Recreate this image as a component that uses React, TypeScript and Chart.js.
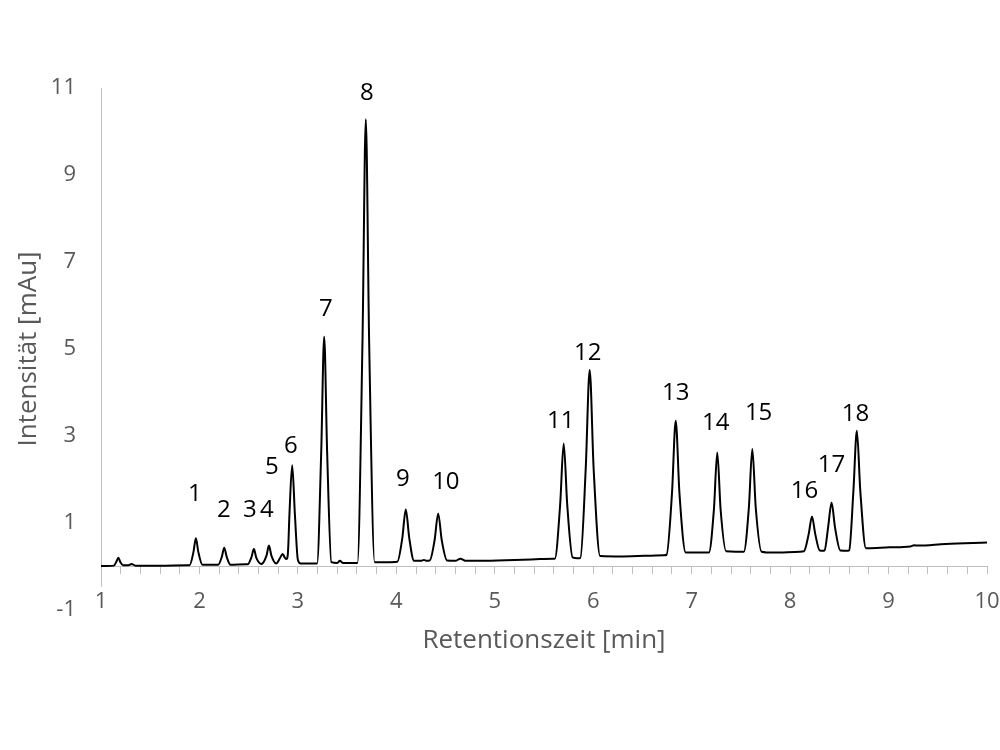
import React, { useEffect, useRef } from "react";
import { Chart, registerables } from "chart.js";

Chart.register(...registerables);

// Chromatogram trace: [retention time (min), intensity (mAu)]
const trace: [number, number][] = [
  [1.0, 0.01], [1.13, 0.02], [1.158, 0.12], [1.176, 0.2], [1.197, 0.1], [1.225, 0.03],
  [1.28, 0.03], [1.31, 0.06], [1.35, 0.02], [1.6, 0.02], [1.88, 0.03],
  // peak 1
  [1.9, 0.03], [1.939, 0.33], [1.964, 0.65], [1.989, 0.33], [2.03, 0.04],
  // peak 2
  [2.19, 0.04], [2.227, 0.22], [2.252, 0.43], [2.277, 0.22], [2.316, 0.04],
  [2.47, 0.05],
  // peak 3
  [2.49, 0.05], [2.528, 0.21], [2.553, 0.4], [2.578, 0.2], [2.63, 0.06],
  // peak 4
  [2.681, 0.25], [2.706, 0.48], [2.731, 0.25], [2.78, 0.07],
  // peak 5 (shoulder)
  [2.82, 0.2], [2.845, 0.29], [2.868, 0.2], [2.885, 0.17],
  // peak 6
  [2.9, 0.35], [2.914, 1.18], [2.942, 2.33], [2.97, 1.18], [3.0, 0.15], [3.03, 0.07],
  [3.18, 0.07],
  // peak 7
  [3.195, 0.07], [3.237, 2.64], [3.267, 5.28], [3.297, 2.64], [3.34, 0.1],
  [3.4, 0.08], [3.426, 0.13], [3.46, 0.08], [3.59, 0.08],
  // peak 8
  [3.605, 0.08], [3.656, 5.15], [3.69, 10.28], [3.724, 5.15], [3.78, 0.1],
  [3.9, 0.1],
  // peak 9
  [4.01, 0.11], [4.061, 0.66], [4.096, 1.31], [4.131, 0.66], [4.18, 0.13],
  [4.25, 0.13], [4.28, 0.15], [4.31, 0.13],
  // peak 10
  [4.34, 0.14], [4.389, 0.61], [4.425, 1.22], [4.461, 0.61], [4.515, 0.14],
  [4.6, 0.13], [4.65, 0.18], [4.71, 0.13], [4.85, 0.13], [5.2, 0.15], [5.46, 0.17], [5.59, 0.18],
  // peak 11
  [5.61, 0.18], [5.664, 1.42], [5.7, 2.83], [5.736, 1.42], [5.79, 0.21],
  [5.84, 0.19],
  // peak 12
  [5.87, 0.2], [5.924, 2.26], [5.964, 4.52], [6.004, 2.26], [6.07, 0.24],
  [6.3, 0.23], [6.72, 0.26],
  // peak 13
  [6.745, 0.27], [6.8, 1.68], [6.838, 3.35], [6.876, 1.68], [6.94, 0.32],
  [7.05, 0.32],
  // peak 14
  [7.175, 0.32], [7.226, 1.31], [7.26, 2.62], [7.294, 1.31], [7.35, 0.35],
  [7.45, 0.34],
  // peak 15
  [7.53, 0.34], [7.581, 1.35], [7.616, 2.7], [7.651, 1.35], [7.71, 0.34],
  [7.83, 0.32], [8.1, 0.34],
  // peak 16
  [8.14, 0.35], [8.189, 0.75], [8.222, 1.15], [8.255, 0.75], [8.3, 0.37],
  [8.33, 0.36],
  // peak 17
  [8.35, 0.37], [8.386, 0.9], [8.421, 1.47], [8.456, 0.9], [8.51, 0.37],
  [8.587, 0.36],
  // peak 18
  [8.6, 0.37], [8.643, 1.74], [8.678, 3.12], [8.713, 1.74], [8.77, 0.42],
  [8.79, 0.42], [9.01, 0.44], [9.22, 0.46], [9.26, 0.49], [9.3, 0.48], [9.58, 0.52], [10.0, 0.55],
];

// Peak annotations: number, time of label, height of label
const peakNumbers = ["1", "2", "3", "4", "5", "6", "7", "8", "9", "10", "11", "12", "13", "14", "15", "16", "17", "18"];
const peakLabelTimes = [1.954, 2.249, 2.513, 2.685, 2.736, 2.929, 3.284, 3.701, 4.066, 4.503, 5.67, 5.944, 6.838, 7.244, 7.68, 8.147, 8.421, 8.665];
const peakLabelHeights = [1.67, 1.3, 1.3, 1.3, 2.29, 2.77, 5.92, 10.89, 2.01, 1.94, 3.34, 4.91, 3.99, 3.3, 3.53, 1.74, 2.33, 3.51];

const xMin = 1;
const xMax = 10;
const yMin = -1;
const yMax = 11;

const xTitle = "Retentionszeit [min]";
const yTitle = "Intensität [mAu]";

const FONT = "'Open Sans', sans-serif";
const AXIS_TEXT = "#595959";
const AXIS_LINE = "#bfbfbf";

const peakLabelPlugin = {
  id: "peakLabels",
  afterDatasetsDraw(chart: any) {
    const { ctx, scales } = chart;
    ctx.save();
    ctx.font = `24px ${FONT}`;
    ctx.fillStyle = "#000000";
    ctx.textAlign = "center";
    ctx.textBaseline = "middle";
    peakNumbers.forEach((label, i) => {
      ctx.fillText(
        label,
        scales.x.getPixelForValue(peakLabelTimes[i]),
        scales.y.getPixelForValue(peakLabelHeights[i])
      );
    });
    ctx.restore();
  },
};

export default function App() {
  const canvasRef = useRef<HTMLCanvasElement | null>(null);

  useEffect(() => {
    if (!canvasRef.current) return;
    const chart = new Chart(canvasRef.current, {
      type: "line",
      data: {
        datasets: [
          {
            data: trace.map(([x, y]) => ({ x, y })),
            borderColor: "#000000",
            borderWidth: 2,
            pointRadius: 0,
            fill: false,
            cubicInterpolationMode: "monotone",
          },
        ],
      },
      options: {
        animation: false,
        responsive: true,
        maintainAspectRatio: false,
        layout: { padding: { top: 88, right: 13, left: 0, bottom: 0 } },
        plugins: {
          legend: { display: false },
          tooltip: { enabled: false },
        },
        scales: {
          x: {
            type: "linear",
            position: "bottom",
            min: xMin,
            max: xMax,
            ticks: { display: false, stepSize: 1 },
            grid: { display: false, drawTicks: false },
            border: { display: false },
            title: {
              display: true,
              text: xTitle,
              color: AXIS_TEXT,
              font: { family: FONT, size: 26 },
              padding: { top: 0, bottom: 94 },
            },
            afterFit: (scale: any) => {
              scale.height = 140;
            },
          },
          xLabels: {
            type: "linear",
            axis: "x",
            position: { y: yMin },
            min: xMin,
            max: xMax,
            ticks: {
              stepSize: 1,
              color: AXIS_TEXT,
              font: { family: FONT, size: 22 },
              padding: -21,
              maxRotation: 0,
              autoSkip: false,
              showLabelBackdrop: true,
              backdropColor: "#ffffff",
              backdropPadding: { top: 2, bottom: 0, left: 1, right: 1 },
              z: 1,
            },
            grid: { display: false, drawTicks: false },
            border: { display: false },
          },
          x2: {
            type: "linear",
            axis: "x",
            position: { y: 0 },
            min: xMin,
            max: xMax,
            ticks: { stepSize: 0.2, display: false },
            grid: {
              display: true,
              drawOnChartArea: false,
              drawTicks: true,
              tickLength: 7,
              color: AXIS_LINE,
              lineWidth: 1,
            },
            border: { display: true, color: AXIS_LINE, width: 1 },
          },
          y: {
            type: "linear",
            position: "left",
            min: yMin,
            max: yMax,
            ticks: {
              stepSize: 2,
              color: AXIS_TEXT,
              font: { family: FONT, size: 22 },
              padding: 25,
            },
            grid: { display: false, drawTicks: false },
            border: { display: true, color: AXIS_LINE, width: 1 },
            title: {
              display: true,
              text: yTitle,
              color: AXIS_TEXT,
              font: { family: FONT, size: 26 },
              padding: { top: 13, bottom: 0 },
            },
            afterFit: (scale: any) => {
              scale.width = 101;
            },
          },
        },
      } as any,
      plugins: [peakLabelPlugin],
    });
    return () => chart.destroy();
  }, []);

  return (
    <div style={{ width: 1000, height: 750, position: "relative", background: "#ffffff" }}>
      <style>{"body{margin:0;}"}</style>
      <canvas ref={canvasRef} />
    </div>
  );
}
